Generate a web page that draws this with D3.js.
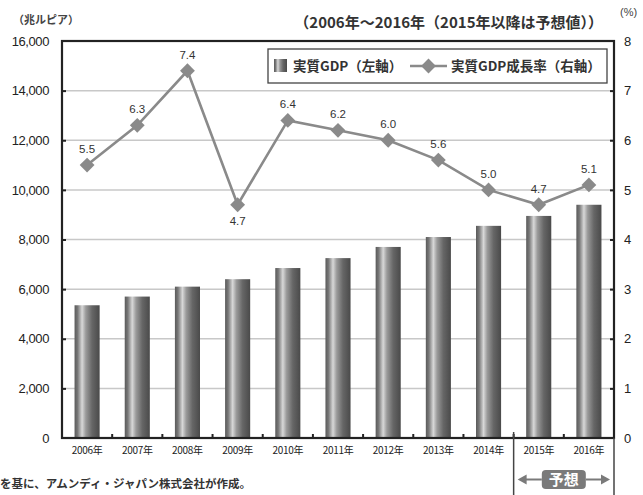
<!DOCTYPE html>
<html><head><meta charset="utf-8">
<script src="https://cdn.jsdelivr.net/npm/d3@7"></script>
<style>
html,body{margin:0;padding:0;background:#fff;}
svg{display:block;}
text{font-family:"Liberation Sans","Noto Sans CJK JP",sans-serif;}
.jp{font-family:"Noto Sans CJK JP",sans-serif;}
</style></head>
<body>
<svg id="c" width="643" height="495"></svg>
<script>
const years = ["2006年","2007年","2008年","2009年","2010年","2011年","2012年","2013年","2014年","2015年","2016年"];
const gdp = [5350, 5700, 6100, 6400, 6850, 7250, 7700, 8100, 8550, 8950, 9400];
const growth = [5.5, 6.3, 7.4, 4.7, 6.4, 6.2, 6.0, 5.6, 5.0, 4.7, 5.1];
const leftTicks = [0, 2000, 4000, 6000, 8000, 10000, 12000, 14000, 16000];
const rightTicks = [0, 1, 2, 3, 4, 5, 6, 7, 8];
const labelBelow = [false,false,false,true,false,false,false,false,false,false,false];

const svg = d3.select("#c");
const L = 62, R = 614, T = 41, B = 438;

const x = d3.scaleBand().domain(years).range([L, R]).paddingInner(0.5).paddingOuter(0.25);
const yL = d3.scaleLinear().domain([0, 16000]).range([B, T]);
const yR = d3.scaleLinear().domain([0, 8]).range([B, T]);
const step = x.step(), bw = x.bandwidth();
const boundary = d => x(d) - (step - bw) / 2;

// gradient for cylinder bars
const defs = svg.append("defs");
const g = defs.append("linearGradient").attr("id","bar").attr("x1","0").attr("x2","1").attr("y1","0").attr("y2","0");
[["0%","#5a5a5a"],["12%","#777"],["30%","#d8d8d8"],["45%","#9a9a9a"],["70%","#666"],["100%","#4a4a4a"]]
  .forEach(([o,c])=>g.append("stop").attr("offset",o).attr("stop-color",c));

// gridlines
svg.append("g").selectAll("line").data(leftTicks.slice(1,-1)).join("line")
  .attr("x1",L).attr("x2",R).attr("y1",d=>yL(d)).attr("y2",d=>yL(d))
  .attr("stroke","#c8c8c8").attr("stroke-width",1.5);

// bars
svg.append("g").selectAll("rect").data(years).join("rect")
  .attr("x",d=>x(d)).attr("width",bw)
  .attr("y",(d,i)=>yL(gdp[i])).attr("height",(d,i)=>B-yL(gdp[i]))
  .attr("fill","url(#bar)");

// axes
const axL = d3.axisLeft(yL).tickValues(leftTicks).tickSize(-4).tickPadding(13).tickFormat(d3.format(","));
const gL = svg.append("g").attr("transform",`translate(${L},0)`).call(axL);
const axR = d3.axisRight(yR).tickValues(rightTicks).tickSize(-4).tickPadding(10).tickFormat(d3.format("d"));
const gR = svg.append("g").attr("transform",`translate(${R},0)`).call(axR);
[gL,gR].forEach(a=>{
  a.select(".domain").remove();
  a.selectAll(".tick line").attr("stroke","#222").attr("stroke-width",2);
  a.selectAll(".tick text").attr("font-size",13).attr("fill","#222");
});
gL.selectAll(".tick text").attr("letter-spacing","-0.4");
gL.selectAll(".tick").filter(d=>d===0||d===16000).select("line").remove();
gR.selectAll(".tick").filter(d=>d===0||d===8).select("line").remove();

const axB = d3.axisBottom(x).tickSize(0).tickPadding(9);
const gB = svg.append("g").attr("transform",`translate(0,${B})`).call(axB);
gB.select(".domain").remove();
gB.selectAll(".tick text").attr("font-size",10).attr("fill","#222").attr("class","jp").attr("letter-spacing","-0.3");

// small category boundary ticks
svg.append("g").selectAll("line").data(years.slice(1)).join("line")
  .attr("x1",d=>boundary(d)).attr("x2",d=>boundary(d))
  .attr("y1",B).attr("y2",B-4).attr("stroke","#222").attr("stroke-width",2);

// frame
svg.append("rect").attr("x",L).attr("y",T).attr("width",R-L).attr("height",B-T)
  .attr("fill","none").attr("stroke","#222").attr("stroke-width",2.2);

// forecast separators
const sepX = boundary(years[9]);
svg.append("line").attr("x1",sepX).attr("x2",sepX).attr("y1",B-6).attr("y2",495).attr("stroke","#444").attr("stroke-width",1.5);
svg.append("line").attr("x1",R).attr("x2",R).attr("y1",B).attr("y2",495).attr("stroke","#444").attr("stroke-width",1.5);

// line
const cx = (d,i)=>x(years[i])+bw/2;
const line = d3.line().x((d,i)=>cx(d,i)).y(d=>yR(d));
svg.append("path").datum(growth).attr("d",line).attr("fill","none").attr("stroke","#8a8a8a").attr("stroke-width",2.6);
const sym = d3.symbol().type(d3.symbolSquare).size(110);
svg.append("g").selectAll("path").data(growth).join("path")
  .attr("d",sym).attr("transform",(d,i)=>`translate(${cx(d,i)},${yR(d)}) rotate(45)`)
  .attr("fill","#8a8a8a");
svg.append("g").selectAll("text").data(growth).join("text")
  .attr("x",(d,i)=>cx(d,i)).attr("y",(d,i)=>labelBelow[i]? yR(d)+20 : yR(d)-12)
  .attr("text-anchor","middle").attr("font-size",11.5).attr("fill","#333")
  .text(d=>d.toFixed(1));

// legend
const lg = svg.append("g");
lg.append("rect").attr("x",268).attr("y",49).attr("width",339).attr("height",34).attr("fill","#fff").attr("stroke","#444").attr("stroke-width",1.3);
lg.append("rect").attr("x",274).attr("y",59).attr("width",13).attr("height",13).attr("fill","url(#bar)");
lg.append("text").attr("class","jp").attr("x",293).attr("y",71).attr("font-size",13.5).attr("font-weight","bold").attr("fill","#333").text("実質GDP（左軸）");
lg.append("line").attr("x1",410).attr("x2",447).attr("y1",66).attr("y2",66).attr("stroke","#8a8a8a").attr("stroke-width",2.6);
lg.append("path").attr("d",sym).attr("transform","translate(428.5,66) rotate(45)").attr("fill","#8a8a8a");
lg.append("text").attr("class","jp").attr("x",451).attr("y",71).attr("font-size",13.5).attr("font-weight","bold").attr("fill","#333").text("実質GDP成長率（右軸）");

// titles
svg.append("text").attr("class","jp").attr("x",603).attr("y",28).attr("text-anchor","end").attr("font-size",15).attr("font-weight","bold").attr("fill","#333").text("（2006年～2016年（2015年以降は予想値））");
svg.append("text").attr("class","jp").attr("x",13).attr("y",24).attr("font-size",11).attr("font-weight","bold").attr("fill","#444").text("（兆ルピア）");
svg.append("text").attr("x",620).attr("y",16).attr("font-size",11).attr("fill","#444").text("(%)");
svg.append("text").attr("class","jp").attr("x",0).attr("y",488).attr("font-size",11.5).attr("font-weight","bold").attr("fill","#333").text("を基に、アムンディ・ジャパン株式会社が作成。");

// forecast marker
const fx = (sepX + R)/2;
svg.append("rect").attr("x",fx-22).attr("y",470).attr("width",44).attr("height",19).attr("rx",4).attr("fill","#7a7a7a");
svg.append("text").attr("class","jp").attr("x",fx).attr("y",485).attr("text-anchor","middle").attr("font-size",15).attr("font-weight","bold").attr("fill","#fff").text("予想");
svg.append("line").attr("x1",sepX+8).attr("x2",fx-22).attr("y1",479.5).attr("y2",479.5).attr("stroke","#7a7a7a").attr("stroke-width",2);
svg.append("path").attr("d",`M${sepX+4},479.5 l9,-5 v10 z`).attr("fill","#7a7a7a");
svg.append("line").attr("x1",fx+22).attr("x2",R-8).attr("y1",479.5).attr("y2",479.5).attr("stroke","#7a7a7a").attr("stroke-width",2);
svg.append("path").attr("d",`M${R-4},479.5 l-9,-5 v10 z`).attr("fill","#7a7a7a");
</script>
</body></html>
